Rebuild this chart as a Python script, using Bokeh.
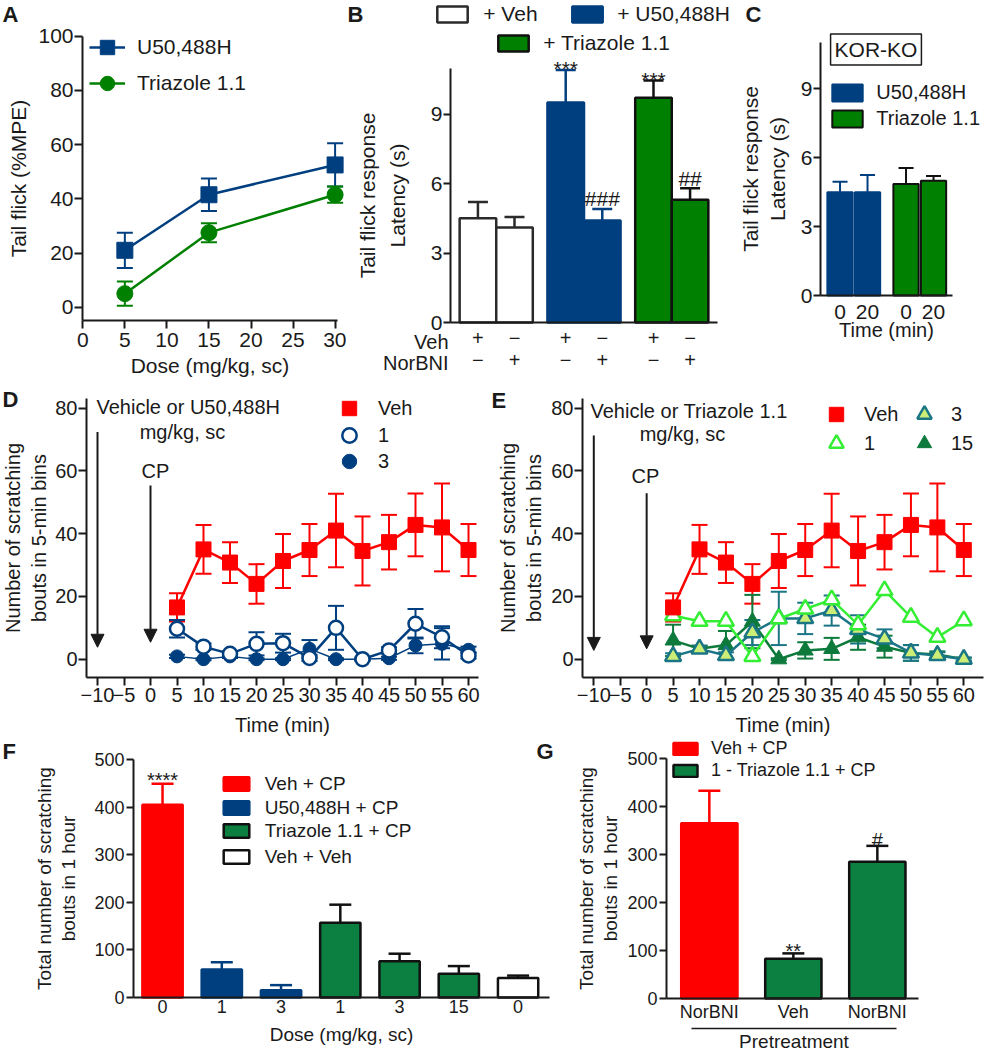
from bokeh.plotting import figure
from bokeh.models import (Range1d, FixedTicker, LinearAxis, Whisker, TeeHead, Arrow, NormalHead,
                          Legend, LegendItem, Label, ColumnDataSource)
from bokeh.layouts import column, row
from bokeh.embed import file_html
from bokeh.resources import INLINE

FONT = "Liberation Sans"
INK = "#1a1a1a"
RED = "#ff0000"
NAVY = "#003f7f"
GREEN_A = "#008000"
GREEN_F = "#0b8040"
LIME = "#33ee33"
TEAL = "#1a7585"
PALE = "#ccee77"
DKGREEN = "#0d7a3c"

# ---------------- data ----------------
# A: tail flick dose response
a_dose = [5, 15, 30]
a_u50 = [21, 41.5, 52.5]
a_u50_err = [6.5, 6, 8]
a_tri = [5, 27.5, 41.5]
a_tri_err = [4.5, 3.5, 3]
a_xticks = [0, 5, 10, 15, 20, 25, 30]
a_yticks = [0, 20, 40, 60, 80, 100]

# B: tail flick latency with / without NorBNI
b_group = ["+ Veh", "+ Veh", "+ U50,488H", "+ U50,488H", "+ Triazole 1.1", "+ Triazole 1.1"]
b_veh = ["+", "\u2212", "+", "\u2212", "+", "\u2212"]
b_norbni = ["\u2212", "+", "\u2212", "+", "\u2212", "+"]
b_latency = [4.5, 4.1, 9.5, 4.4, 9.7, 5.3]
b_err = [0.7, 0.45, 1.4, 0.5, 0.75, 0.5]
b_sig = ["", "", "***", "###", "***", "##"]
b_yticks = [0, 3, 6, 9]

# C: KOR-KO
c_drug = ["U50,488H", "U50,488H", "Triazole 1.1", "Triazole 1.1"]
c_time = ["0", "20", "0", "20"]
c_latency = [4.5, 4.5, 4.85, 5.0]
c_err = [0.45, 0.75, 0.7, 0.2]

# D / E: time course of scratching
time_min = [5, 10, 15, 20, 25, 30, 35, 40, 45, 50, 55, 60]
veh_bouts = [16.5, 35, 30.8, 24, 31.3, 34.8, 41, 34.5, 37.3, 42.8, 42, 34.8]
veh_err = [4.5, 7.8, 6.5, 6.3, 8.6, 8.3, 11.7, 11, 8.7, 10, 14, 8.3]
u50_1 = [9.7, 4, 1.7, 4.9, 5.1, 0.4, 10, 0, 2.8, 11.3, 7, 1.2]
u50_1_err = [2.8, 1, 0.8, 3.7, 3, 1, 7, 0.5, 1, 4.7, 3.5, 1]
u50_3 = [0.9, 0, 0.9, 0, 0, 3.3, 0, 0, 0.3, 4.4, 4.9, 3]
u50_3_err = [0.5, 0.3, 0.5, 0.3, 0.3, 2.8, 0.3, 0.3, 0.5, 2.5, 5, 1]
tri_1 = [13.9, 12.1, 12.1, 0.9, 12.9, 16, 19, 11, 21.9, 13.4, 7, 12.3]
tri_3 = [0.9, 3.3, 1.2, 8.5, 13, 13, 15.5, 9.5, 6.5, 2, 1.2, 0]
tri_3_err = [1, 1, 1, 4, 8.5, 5, 4.8, 4.5, 3, 2.5, 1, 0.5]
tri_15 = [6, 3.3, 4.5, 12, 0, 2.8, 3.3, 7, 4, 2, 1.5, 0]
tri_15_err = [5, 1, 4.5, 8.5, 0.3, 2.6, 3.5, 4, 3.5, 2.5, 1, 0.5]
de_xticks = [-10, -5, 0, 5, 10, 15, 20, 25, 30, 35, 40, 45, 50, 55, 60]
de_yticks = [0, 20, 40, 60, 80]
inject_time = [-10, 0]
d_arrow_top = [72.4, 55.4]
d_arrow_bottom = [3.8, 5.4]
e_arrow_top = [71.3, 52.9]
e_arrow_bottom = [2.8, 3.3]

# F: total scratching
f_dose = ["0", "1", "3", "1", "3", "15", "0"]
f_group = ["Veh + CP", "U50,488H + CP", "U50,488H + CP", "Triazole 1.1 + CP",
           "Triazole 1.1 + CP", "Triazole 1.1 + CP", "Veh + Veh"]
f_total = [405, 59, 15, 157, 76, 50, 41]
f_err = [44, 15, 11, 38, 16, 16, 5]
f_sig = ["****", "", "", "", "", "", ""]
f_yticks = [0, 100, 200, 300, 400, 500]

# G: NorBNI pretreatment
g_pre = ["NorBNI", "Veh", "NorBNI"]
g_group = ["Veh + CP", "1 - Triazole 1.1 + CP", "1 - Triazole 1.1 + CP"]
g_total = [365, 83, 285]
g_err = [68, 11, 33]
g_sig = ["", "**", "#"]


# ---------------- helpers ----------------
class Fr:
    """Figure box in page pixels plus a linear pixel<->data mapping."""
    def __init__(s, box, xa, xb, ya, yb):
        s.X0, s.Y0, s.X1, s.Y1 = box
        (v1, p1), (v2, p2) = xa, xb
        s.kx = (v2 - v1) / (p2 - p1)
        s.bx = v1 - p1 * s.kx
        (w1, q1), (w2, q2) = ya, yb
        s.ky = (w2 - w1) / (q2 - q1)
        s.by = w1 - q1 * s.ky

    def dx(s, px):
        return s.bx + px * s.kx

    def dy(s, py):
        return s.by + py * s.ky


def make(fr):
    p = figure(width=fr.X1 - fr.X0, height=fr.Y1 - fr.Y0, title=None,
               x_range=Range1d(fr.dx(fr.X0), fr.dx(fr.X1)),
               y_range=Range1d(fr.dy(fr.Y1), fr.dy(fr.Y0)),
               output_backend="svg", toolbar_location=None,
               min_border_left=0, min_border_right=0, min_border_top=0, min_border_bottom=0)
    p.outline_line_color = None
    p.xgrid.visible = False
    p.ygrid.visible = False
    p.background_fill_color = "white"
    p.border_fill_color = "white"
    return p


def style_axis(ax, fs, tick_out=7, standoff=2, label_standoff=5, label_fs=None, lh=1.2):
    ax.axis_line_width = 2
    ax.axis_line_color = INK
    ax.major_tick_line_width = 2
    ax.major_tick_line_color = INK
    ax.major_tick_out = tick_out
    ax.major_tick_in = 0
    ax.minor_tick_line_color = None
    ax.minor_tick_out = 0
    ax.major_label_text_font = FONT
    ax.major_label_text_font_size = f"{fs}px"
    ax.major_label_text_color = INK
    ax.major_label_standoff = standoff
    ax.axis_label_text_font = FONT
    ax.axis_label_text_font_size = f"{label_fs or fs}px"
    ax.axis_label_text_font_style = "normal"
    ax.axis_label_text_color = INK
    ax.axis_label_text_line_height = lh
    ax.axis_label_standoff = label_standoff


def add_err(p, xs, ys, es, color, cap, lw=2, both=True):
    src = ColumnDataSource(dict(base=list(xs),
                                lower=[y - e for y, e in zip(ys, es)] if both else list(ys),
                                upper=[y + e for y, e in zip(ys, es)]))
    w = Whisker(source=src, base="base", lower="lower", upper="upper", dimension="height",
                line_color=color, line_width=lw,
                upper_head=TeeHead(size=cap, line_color=color, line_width=lw),
                lower_head=TeeHead(size=cap, line_color=color, line_width=lw) if both else None)
    p.add_layout(w)


def add_legend(p, fr, renderers, label, gx, gy, gw, gh, text_x, fs):
    lg = Legend(items=[LegendItem(label=label, renderers=renderers)],
                location=(gx - gw / 2 - fr.X0, fr.Y1 - (gy + gh / 2)),
                orientation="vertical", padding=0, margin=0, spacing=0,
                glyph_width=round(gw), glyph_height=round(gh), label_height=round(gh),
                label_standoff=round(text_x - (gx + gw / 2)),
                border_line_color=None, background_fill_alpha=0,
                label_text_font=FONT, label_text_font_size=f"{fs}px", label_text_color=INK)
    p.add_layout(lg)


def lab(p, fr, px, py, text, fs, align="left", baseline="middle", bold=False, **kw):
    p.add_layout(Label(x=fr.dx(px), y=fr.dy(py), text=text, text_font=FONT,
                       text_font_size=f"{fs}px", text_align=align, text_baseline=baseline,
                       text_color=INK, text_font_style="bold" if bold else "normal", **kw))


def place_axes(p, fr, yaxis_px, xaxis_px, x_end_px, y_top_value):
    p.yaxis[0].fixed_location = fr.dx(yaxis_px)
    p.yaxis[0].bounds = (fr.dy(xaxis_px), y_top_value)
    p.xaxis[0].fixed_location = fr.dy(xaxis_px)
    p.xaxis[0].bounds = (fr.dx(yaxis_px), fr.dx(x_end_px))


def sig_labels(p, xs, tops, errs, sigs, fs, star_off, hash_off):
    for x, t, e, s in zip(xs, tops, errs, sigs):
        if s:
            p.add_layout(Label(x=x, y=t + e, text=s, text_font=FONT, text_font_size=f"{fs}px",
                               text_align="center", text_baseline="alphabetic", text_color=INK,
                               y_offset=(star_off if "*" in s else hash_off)))


# ================= Panel A =================
fA = Fr((0, 0, 346, 380), (0, 82.3), (30, 334.6), (0, 306.7), (100, 35.7))
pA = make(fA)
style_axis(pA.yaxis[0], 21, tick_out=8, standoff=1, label_standoff=5)
style_axis(pA.xaxis[0], 21, tick_out=8, standoff=4, label_standoff=4)
place_axes(pA, fA, 82, 320, 337, 100)
pA.xaxis[0].ticker = FixedTicker(ticks=a_xticks)
pA.yaxis[0].ticker = FixedTicker(ticks=a_yticks)
pA.xaxis[0].axis_label = "Dose (mg/kg, sc)"
pA.yaxis[0].axis_label = "Tail flick (%MPE)"
add_err(pA, a_dose, a_u50, a_u50_err, NAVY, 16, 2)
add_err(pA, a_dose, a_tri, a_tri_err, GREEN_A, 16, 2)
lu = pA.line(a_dose, a_u50, line_color=NAVY, line_width=2.5)
su = pA.scatter(a_dose, a_u50, marker="square", size=16, color=NAVY)
lt = pA.line(a_dose, a_tri, line_color=GREEN_A, line_width=2.5)
st = pA.scatter(a_dose, a_tri, marker="circle", size=16, color=GREEN_A)
add_legend(pA, fA, [lu, su], "U50,488H", 107, 47, 36, 36, 137, 21)
add_legend(pA, fA, [lt, st], "Triazole 1.1", 107, 83, 36, 36, 137, 21)
lab(pA, fA, 2, 14, "A", 22, bold=True)

# ================= Panel B =================
fB = Fr((346, 0, 736, 380), (-2.5, 450), (70.5, 717), (0, 322), (9, 113.5))
pB = make(fB)
b_x = [g * 24 + j * 10 + 5 for g in range(3) for j in range(2)]
style_axis(pB.yaxis[0], 21, tick_out=7, standoff=1, label_standoff=19, lh=1.3)
style_axis(pB.xaxis[0], 20, tick_out=0, standoff=8)
place_axes(pB, fB, 450, 322, 717, 10.96)
pB.yaxis[0].ticker = FixedTicker(ticks=b_yticks)
pB.yaxis[0].axis_label = "Tail flick response\nLatency (s)"
pB.xaxis[0].major_tick_line_color = None
pB.xaxis[0].ticker = FixedTicker(ticks=b_x)
pB.xaxis[0].major_label_overrides = {x: s for x, s in zip(b_x, b_veh)}
axB2 = LinearAxis(ticker=FixedTicker(ticks=b_x), fixed_location=fB.dy(351),
                  major_label_overrides={x: s for x, s in zip(b_x, b_norbni)})
style_axis(axB2, 20, tick_out=0, standoff=1)
axB2.axis_line_color = None
axB2.major_tick_line_color = None
pB.add_layout(axB2, "below")
b_style = {"+ Veh": ("white", "#2a2a2a"), "+ U50,488H": (NAVY, NAVY), "+ Triazole 1.1": (GREEN_A, "#111111")}
b_rend = {}
for grp in ["+ Veh", "+ U50,488H", "+ Triazole 1.1"]:
    idx = [i for i, g in enumerate(b_group) if g == grp]
    fc, lc = b_style[grp]
    add_err(pB, [b_x[i] for i in idx], [b_latency[i] for i in idx], [b_err[i] for i in idx],
            lc, 20, 2.5, both=False)
    b_rend[grp] = pB.vbar(x=[b_x[i] for i in idx], top=[b_latency[i] for i in idx], width=10,
                          fill_color=fc, line_color=lc, line_width=2.5)
sig_labels(pB, b_x, b_latency, b_err, b_sig, 21, 1, 10)
add_legend(pB, fB, [b_rend["+ Veh"]], "+ Veh", 452, 16, 37.5, 20, 483, 21)
add_legend(pB, fB, [b_rend["+ U50,488H"]], "+ U50,488H", 587, 16, 37.5, 20, 617, 21)
add_legend(pB, fB, [b_rend["+ Triazole 1.1"]], "+ Triazole 1.1", 513, 45, 37.5, 20, 543, 21)
lab(pB, fB, 448, 341, "Veh", 20, align="right")
lab(pB, fB, 448, 362, "NorBNI", 20, align="right")
lab(pB, fB, 347, 14, "B", 22, bold=True)

# ================= Panel C =================
fC = Fr((736, 0, 984, 380), (-7.1, 820), (40.9, 952), (0, 295), (9, 88.3))
pC = make(fC)
c_x = [0, 10, 24, 34]
style_axis(pC.yaxis[0], 21, tick_out=7, standoff=1, label_standoff=9, label_fs=21, lh=1.15)
style_axis(pC.xaxis[0], 21, tick_out=0, standoff=9, label_standoff=-3, label_fs=20)
place_axes(pC, fC, 820, 295, 952, 11.03)
pC.yaxis[0].ticker = FixedTicker(ticks=b_yticks)
pC.yaxis[0].axis_label = "Tail flick response\nLatency (s)"
pC.xaxis[0].major_tick_line_color = None
pC.xaxis[0].ticker = FixedTicker(ticks=c_x)
pC.xaxis[0].major_label_overrides = {x: s for x, s in zip(c_x, c_time)}
pC.xaxis[0].axis_label = "Time (min)"
c_style = {"U50,488H": (NAVY, NAVY), "Triazole 1.1": (GREEN_A, "#111111")}
c_rend = {}
for grp in ["U50,488H", "Triazole 1.1"]:
    idx = [i for i, g in enumerate(c_drug) if g == grp]
    fc, lc = c_style[grp]
    add_err(pC, [c_x[i] for i in idx], [c_latency[i] for i in idx], [c_err[i] for i in idx],
            lc, 15, 2, both=False)
    c_rend[grp] = pC.vbar(x=[c_x[i] for i in idx], top=[c_latency[i] for i in idx], width=9.2,
                          fill_color=fc, line_color=lc, line_width=2)
pC.add_layout(Label(x=fC.dx(875.5), y=fC.dy(49), text="KOR-KO", text_font=FONT,
                    text_font_size="21px", text_align="center", text_baseline="middle",
                    text_color=INK, border_line_color=INK, border_line_width=1.5,
                    background_fill_color="white", padding=4))
add_legend(pC, fC, [c_rend["U50,488H"]], "U50,488H", 847, 93, 37.5, 21, 876, 20)
add_legend(pC, fC, [c_rend["Triazole 1.1"]], "Triazole 1.1", 847, 119, 37.5, 21, 876, 20)
lab(pC, fC, 745, 14, "C", 22, bold=True)


# ================= Panels D & E =================
def time_axes(p, fr, ylab, yaxis_px, x_end_px, lstand):
    style_axis(p.xaxis[0], 20, tick_out=8, standoff=2, label_standoff=9)
    style_axis(p.yaxis[0], 20, tick_out=8, standoff=1, label_standoff=lstand, label_fs=20, lh=1.2)
    place_axes(p, fr, yaxis_px, 677, x_end_px, 83.1)
    p.xaxis[0].ticker = FixedTicker(ticks=de_xticks)
    p.xaxis[0].major_label_overrides = {-10: "\u221210", -5: "\u22125"}
    p.yaxis[0].ticker = FixedTicker(ticks=de_yticks)
    p.xaxis[0].axis_label = "Time (min)"
    p.yaxis[0].axis_label = ylab


def arrows(p, tops, bottoms):
    src = ColumnDataSource(dict(x=inject_time, y0=tops, y1=bottoms))
    p.add_layout(Arrow(source=src, x_start="x", y_start="y0", x_end="x", y_end="y1",
                       line_color=INK, line_width=2,
                       end=NormalHead(size=13, fill_color=INK, line_color=INK, line_width=1)))


YLAB_DE = "Number of scratching\nbouts in 5-min bins"

fD = Fr((0, 380, 490, 737), (-10, 97), (60, 468), (0, 658.7), (80, 407.7))
pD = make(fD)
time_axes(pD, fD, YLAB_DE, 86, 478, 2)
add_err(pD, time_min, veh_bouts, veh_err, RED, 16, 2)
add_err(pD, time_min, u50_1, u50_1_err, NAVY, 16, 2)
add_err(pD, time_min, u50_3, u50_3_err, NAVY, 16, 2)
pD.line(time_min, u50_3, line_color=NAVY, line_width=1.5)
d3 = pD.scatter(time_min, u50_3, marker="circle", size=13, color=NAVY)
pD.line(time_min, u50_1, line_color=NAVY, line_width=2.5)
d1 = pD.scatter(time_min, u50_1, marker="circle", size=14, fill_color="white",
                line_color=NAVY, line_width=2.5)
pD.line(time_min, veh_bouts, line_color=RED, line_width=2.5)
dv = pD.scatter(time_min, veh_bouts, marker="square", size=15, color=RED)
arrows(pD, d_arrow_top, d_arrow_bottom)
lab(pD, fD, 96, 406, "Vehicle or U50,488H", 20)
lab(pD, fD, 182, 431, "mg/kg, sc", 20, align="center")
lab(pD, fD, 155, 470, "CP", 20, align="center")
add_legend(pD, fD, [dv], "Veh", 349, 408, 36, 36, 378, 20)
add_legend(pD, fD, [d1], "1", 349, 435, 36, 36, 378, 20)
add_legend(pD, fD, [d3], "3", 349, 461, 36, 36, 378, 20)
lab(pD, fD, 2, 399, "D", 22, bold=True)

fE = Fr((490, 380, 984, 737), (-10, 593.3), (60, 963.3), (0, 658.7), (80, 407.7))
pE = make(fE)
time_axes(pE, fE, YLAB_DE, 582, 983, 3)
add_err(pE, time_min, veh_bouts, veh_err, RED, 16, 2)
add_err(pE, time_min, tri_15, tri_15_err, DKGREEN, 16, 2)
add_err(pE, time_min, tri_3, tri_3_err, TEAL, 16, 2)
pE.line(time_min, tri_15, line_color=DKGREEN, line_width=2.5)
e15 = pE.scatter(time_min, tri_15, marker="triangle", size=16, color=DKGREEN)
pE.line(time_min, tri_3, line_color=TEAL, line_width=2.5)
e3 = pE.scatter(time_min, tri_3, marker="triangle", size=16, fill_color=PALE,
                line_color=TEAL, line_width=2.5)
pE.line(time_min, tri_1, line_color=LIME, line_width=2.5)
e1 = pE.scatter(time_min, tri_1, marker="triangle", size=16, fill_color="white",
                line_color=LIME, line_width=2.5)
pE.line(time_min, veh_bouts, line_color=RED, line_width=2.5)
ev = pE.scatter(time_min, veh_bouts, marker="square", size=15, color=RED)
arrows(pE, e_arrow_top, e_arrow_bottom)
lab(pE, fE, 590, 410, "Vehicle or Triazole 1.1", 20)
lab(pE, fE, 682, 433, "mg/kg, sc", 20, align="center")
lab(pE, fE, 645, 475, "CP", 20, align="center")
add_legend(pE, fE, [ev], "Veh", 836, 414, 36, 36, 864, 20)
add_legend(pE, fE, [e1], "1", 836, 443, 36, 36, 864, 20)
add_legend(pE, fE, [e3], "3", 924, 414, 36, 36, 951, 20)
add_legend(pE, fE, [e15], "15", 924, 443, 36, 36, 951, 20)
lab(pE, fE, 491, 400, "E", 22, bold=True)

# ================= Panel F =================
fF = Fr((0, 737, 555, 1050), (-0.49, 133), (6.53, 549), (0, 997), (500, 759))
pF = make(fF)
f_x = list(range(len(f_total)))
style_axis(pF.yaxis[0], 18, tick_out=7, standoff=2, label_standoff=12, label_fs=19, lh=1.15)
style_axis(pF.xaxis[0], 18, tick_out=0, standoff=2, label_standoff=8, label_fs=19)
place_axes(pF, fF, 133, 997, 549, 500)
pF.yaxis[0].ticker = FixedTicker(ticks=f_yticks)
pF.yaxis[0].axis_label = "Total number of scratching\nbouts in 1 hour"
pF.xaxis[0].major_tick_line_color = None
pF.xaxis[0].ticker = FixedTicker(ticks=f_x)
pF.xaxis[0].major_label_overrides = {x: s for x, s in zip(f_x, f_dose)}
pF.xaxis[0].axis_label = "Dose (mg/kg, sc)"
f_style = {"Veh + CP": (RED, RED), "U50,488H + CP": (NAVY, NAVY),
           "Triazole 1.1 + CP": (GREEN_F, "#111111"), "Veh + Veh": ("white", "#111111")}
f_rend = {}
for grp in ["Veh + CP", "U50,488H + CP", "Triazole 1.1 + CP", "Veh + Veh"]:
    idx = [i for i, g in enumerate(f_group) if g == grp]
    fc, lc = f_style[grp]
    add_err(pF, [f_x[i] for i in idx], [f_total[i] for i in idx], [f_err[i] for i in idx],
            lc, 22, 2.5, both=False)
    f_rend[grp] = pF.vbar(x=[f_x[i] for i in idx], top=[f_total[i] for i in idx], width=0.68,
                          fill_color=fc, line_color=lc, line_width=2.5)
sig_labels(pF, f_x, f_total, f_err, f_sig, 20, 4, 7)
for grp, gy in zip(["Veh + CP", "U50,488H + CP", "Triazole 1.1 + CP", "Veh + Veh"],
                   [786, 810, 833, 859]):
    add_legend(pF, fF, [f_rend[grp]], grp, 236, gy, 32.5, 17, 265, 19)
lab(pF, fF, 2, 751, "F", 22, bold=True)
lab(pF, fF, 536, 751, "G", 22, bold=True)

# ================= Panel G =================
fG = Fr((555, 737, 984, 1050), (-0.51, 666), (2.49, 918), (0, 998), (500, 758))
pG = make(fG)
g_x = list(range(len(g_total)))
style_axis(pG.yaxis[0], 18, tick_out=7, standoff=2, label_standoff=3, label_fs=19, lh=1.15)
style_axis(pG.xaxis[0], 18, tick_out=0, standoff=3)
place_axes(pG, fG, 666, 998, 918, 500)
pG.yaxis[0].ticker = FixedTicker(ticks=f_yticks)
pG.yaxis[0].axis_label = "Total number of scratching\nbouts in 1 hour"
pG.xaxis[0].major_tick_line_color = None
pG.xaxis[0].ticker = FixedTicker(ticks=g_x)
pG.xaxis[0].major_label_overrides = {x: s for x, s in zip(g_x, g_pre)}
axG2 = LinearAxis(ticker=FixedTicker(ticks=[]), fixed_location=fG.dy(1028),
                  bounds=(fG.dx(691), fG.dx(896)), axis_label="Pretreatment")
style_axis(axG2, 18, tick_out=0, standoff=0, label_standoff=2, label_fs=19)
axG2.axis_line_width = 1.5
pG.add_layout(axG2, "below")
g_style = {"Veh + CP": (RED, RED), "1 - Triazole 1.1 + CP": (GREEN_F, "#111111")}
g_rend = {}
for grp in ["Veh + CP", "1 - Triazole 1.1 + CP"]:
    idx = [i for i, g in enumerate(g_group) if g == grp]
    fc, lc = g_style[grp]
    add_err(pG, [g_x[i] for i in idx], [g_total[i] for i in idx], [g_err[i] for i in idx],
            lc, 22, 2.5, both=False)
    g_rend[grp] = pG.vbar(x=[g_x[i] for i in idx], top=[g_total[i] for i in idx], width=0.67,
                          fill_color=fc, line_color=lc, line_width=2.5)
sig_labels(pG, g_x, g_total, g_err, g_sig, 20, 2, 6)
add_legend(pG, fG, [g_rend["Veh + CP"]], "Veh + CP", 685, 752, 30, 14.6, 711, 18)
add_legend(pG, fG, [g_rend["1 - Triazole 1.1 + CP"]], "1 - Triazole 1.1 + CP", 685, 774, 30, 14.6, 711, 18)

layout = column(row(pA, pB, pC), row(pD, pE), row(pF, pG))
open("out.html", "w").write(file_html(layout, INLINE, title="Kappa opioid figure"))
